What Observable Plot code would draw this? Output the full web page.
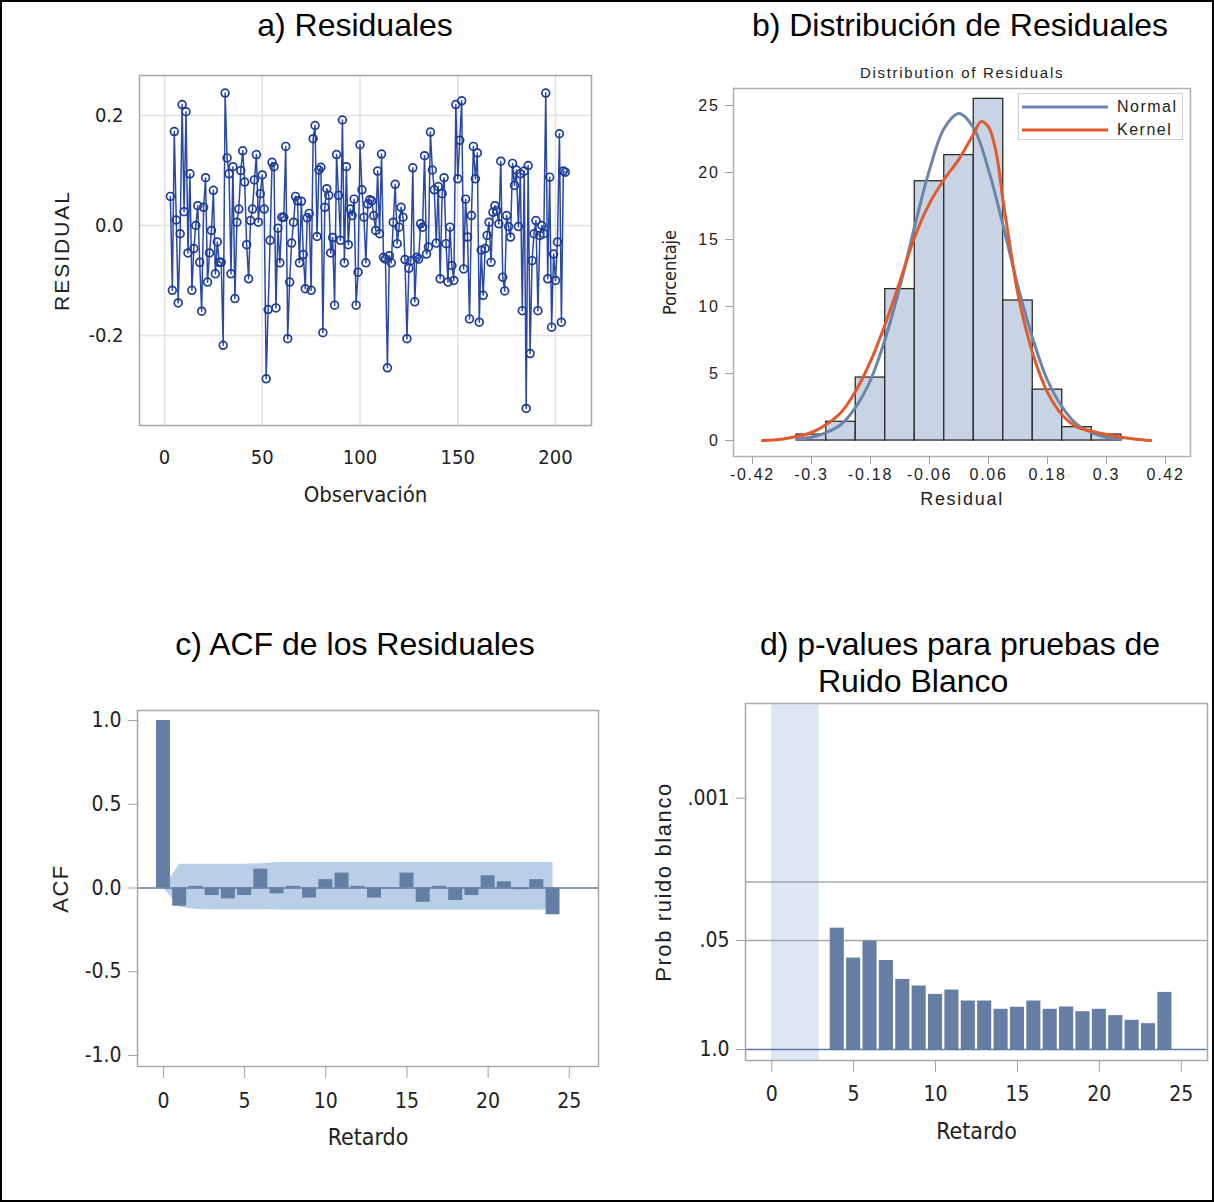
<!DOCTYPE html>
<html><head><meta charset="utf-8">
<script src="https://cdn.jsdelivr.net/npm/d3@7"></script>
<script src="https://cdn.jsdelivr.net/npm/@observablehq/plot@0.6"></script>
<style>
body{margin:0;background:#fff;}
#page{position:relative;width:1214px;height:1202px;overflow:hidden;font-family:"Liberation Sans",Arial,sans-serif;background:#fff;}
#border{position:absolute;left:0;top:0;width:1214px;height:1202px;box-sizing:border-box;border:2px solid #000;pointer-events:none;}
.panel{position:absolute;}
.title{position:absolute;font-size:32px;line-height:32px;color:#000;white-space:nowrap;}
.center{transform:translateX(-50%);}
#legend{position:absolute;left:1018px;top:93px;width:165px;height:47px;box-sizing:border-box;border:1px solid #cfcfcf;background:#fff;font-size:16px;letter-spacing:1.5px;color:#222;}
#legend .row{position:absolute;left:3px;height:20px;display:flex;align-items:center;}
#legend svg{margin-right:9px;}
#pb text{letter-spacing:1.7px;}
#pb text[transform*="rotate"]{letter-spacing:0;}
#pa text[transform*="rotate"]{letter-spacing:2px;}
#pc text[transform*="rotate"]{letter-spacing:1.5px;}
#pd text[transform*="rotate"]{letter-spacing:1.6px;}
</style></head><body>
<div id="page">
  <div class="title center" style="left:355px;top:9px">a) Residuales</div>
  <div class="title center" style="left:960px;top:9px">b) Distribución de Residuales</div>
  <div class="title center" style="left:355px;top:628px">c) ACF de los Residuales</div>
  <div class="title center" style="left:960px;top:628px">d) p-values para pruebas de</div>
  <div class="title" style="left:818px;top:665px">Ruido Blanco</div>
  <div id="pa" class="panel" style="left:40px;top:60px"></div>
  <div id="pb" class="panel" style="left:650px;top:60px"></div>
  <div id="pc" class="panel" style="left:20px;top:690px"></div>
  <div id="pd" class="panel" style="left:630px;top:690px"></div>
  <div class="title center" style="left:962px;top:65px;font-size:15px;line-height:16px;letter-spacing:1.7px;color:#222">Distribution of Residuals</div>
  <div id="legend">
    <div class="row" style="top:3px"><svg width="86" height="4"><line x1="0" x2="86" y1="2" y2="2" stroke="#6b84ab" stroke-width="3"/></svg>Normal</div>
    <div class="row" style="top:26px"><svg width="86" height="4"><line x1="0" x2="86" y1="2" y2="2" stroke="#e05a2b" stroke-width="3"/></svg>Kernel</div>
  </div>
  <div id="border"></div>
</div>
<script>
// ---------- Data ----------
// a) Residual series (observation numbers start at 3)
const obsStart = 3;
const residuals = [
 0.053,-0.118,0.171,0.010,-0.141,-0.015,0.220,0.025,0.207,-0.050,0.094,-0.118,-0.042,0.000,0.036,-0.067,-0.156,0.033,0.087,-0.103,
 -0.050,-0.009,0.064,-0.088,-0.030,-0.067,-0.067,-0.218,0.241,0.123,0.094,-0.088,0.107,-0.133,0.006,0.030,0.100,0.136,0.079,-0.035,
 -0.097,0.009,
 0.030,0.083,0.129,0.006,0.058,0.092,0.030,-0.279,-0.153,-0.027,0.115,0.107,-0.150,-0.005,-0.068,0.015,0.015,0.144,-0.206,-0.103,
 -0.032,0.006,0.053,0.045,-0.068,0.044,-0.053,-0.115,0.014,0.022,-0.118,0.158,0.182,-0.020,0.101,0.106,-0.195,0.033,0.067,0.055,-0.050,
 -0.022,-0.145,0.129,0.055,-0.027,0.192,-0.068,0.107,-0.035,0.030,0.018,0.048,-0.145,-0.085,0.147,0.065,0.015,-0.068,0.039,0.047,
 0.045,0.018,-0.009,0.099,-0.015,0.130,-0.058,-0.061,-0.259,-0.055,-0.068,0.006,0.075,-0.033,-0.003,0.033,0.015,-0.062,-0.206,-0.078,
 -0.064,0.105,-0.139,-0.058,
 -0.061,0.003,-0.003,0.127,-0.052,-0.039,0.170,0.101,0.065,-0.032,0.071,-0.097,0.058,0.087,-0.033,-0.103,-0.003,-0.073,-0.100,0.220,
 0.085,0.155,0.227,-0.079,0.048,-0.021,-0.170,0.018,0.144,0.085,0.132,-0.176,-0.045,-0.127,-0.042,-0.018,0.006,-0.067,0.024,0.036,
 0.027,0.003,0.117,-0.094,-0.119,
 0.018,-0.002,-0.021,0.113,0.073,0.101,-0.002,0.094,-0.155,0.099,-0.333,0.109,-0.233,-0.064,-0.015,0.009,-0.155,-0.018,0.000,-0.015,
 0.241,-0.097,0.088,-0.185,-0.052,-0.100,-0.030,0.167,-0.176,0.099,0.097
];
const obsTicks = [0, 50, 100, 150, 200];
const residTicks = [-0.2, 0, 0.2];

// b) Histogram of residuals (percent), bin centres, density curves
const binCenters = [-0.30,-0.24,-0.18,-0.12,-0.06,0.00,0.06,0.12,0.18,0.24,0.30];
const binPercent = [0.45,1.4,4.7,11.3,19.35,21.3,25.5,10.45,3.8,1.0,0.45];
const binWidth = 0.06;
const normalX = [-0.33,-0.30,-0.27,-0.24,-0.21,-0.18,-0.15,-0.12,-0.09,-0.06,-0.03,0.00,0.03,0.06,0.09,0.12,0.15,0.18,0.21,0.24,0.27,0.30,0.33];
const normalY = [0.1,0.25,0.6,1.2,2.5,4.5,7.6,11.5,16.0,20.2,23.3,24.4,23.3,20.2,16.0,11.5,7.6,4.5,2.5,1.2,0.6,0.25,0.1];
const kernelX = [-0.40,-0.36,-0.33,-0.30,-0.27,-0.24,-0.21,-0.18,-0.15,-0.12,-0.09,-0.06,-0.03,0.00,0.03,0.045,0.06,0.075,0.09,0.105,0.12,0.15,0.18,0.21,0.24,0.27,0.30,0.33,0.36,0.39];
const kernelY = [0.0,0.1,0.3,0.6,1.2,2.1,3.7,5.9,8.7,11.9,15.2,17.7,19.5,21.0,22.9,23.8,23.4,21.6,17.8,14.2,10.9,6.5,3.6,1.9,1.0,0.7,0.45,0.25,0.1,0.0];
const residualTicks = [-0.42,-0.3,-0.18,-0.06,0.06,0.18,0.3,0.42];
const percentTicks = [0,5,10,15,20,25];

// c) ACF of residuals
const acfLags = [0,1,2,3,4,5,6,7,8,9,10,11,12,13,14,15,16,17,18,19,20,21,22,23,24];
const acfValues = [1.0,-0.109,0.01,-0.045,-0.065,-0.045,0.113,-0.035,0.01,-0.06,0.05,0.089,0.01,-0.06,0.003,0.089,-0.085,0.01,-0.075,-0.045,0.073,0.037,-0.01,0.05,-0.16];
const bandUpper = [0,0.142,0.142,0.142,0.142,0.142,0.145,0.152,0.152,0.152,0.152,0.152,0.152,0.152,0.152,0.152,0.152,0.152,0.152,0.152,0.152,0.152,0.152,0.152,0.152];
const bandLower = [0,-0.115,-0.128,-0.13,-0.13,-0.13,-0.13,-0.132,-0.132,-0.132,-0.132,-0.132,-0.132,-0.132,-0.132,-0.132,-0.132,-0.132,-0.132,-0.132,-0.132,-0.132,-0.132,-0.132,-0.132];
const lagTicks = [0,5,10,15,20,25];
const acfTicks = [-1,-0.5,0,0.5,1];

// d) White-noise test p-values
const wnLags = [4,5,6,7,8,9,10,11,12,13,14,15,16,17,18,19,20,21,22,23,24];
const wnPValues = [0.0356,0.081,0.0509,0.0865,0.1455,0.1746,0.2198,0.195,0.2636,0.2636,0.331,0.313,0.2636,0.331,0.3105,0.353,0.331,0.3936,0.4477,0.491,0.208];
const untestedLags = [0, 2.9];
const pTicks = [1, 0.05, 0.001];
const pRefLines = [0.01, 0.05];

// ---------- Styles ----------
const NARROW = "'Liberation Sans Narrow','Arial Narrow','DejaVu Sans Condensed',sans-serif";
const REG = "'Liberation Sans',Arial,sans-serif";
const BAR = "#667ea3";
const negLog = p => -Math.log10(p);
const pLabel = v => { const p = +Math.pow(10, -v).toPrecision(3); return p === 1 ? "1.0" : String(p).replace(/^0/, ""); };

// a) Residuals
const resData = residuals.map((r, i) => ({obs: i + obsStart, r}));
document.getElementById("pa").append(Plot.plot({
  width: 570, height: 470, marginLeft: 99, marginRight: 19, marginTop: 15, marginBottom: 105,
  style: {fontFamily: NARROW, fontSize: "20px", color: "#222", background: "transparent"},
  x: {domain: [-12.8, 218.4]},
  y: {domain: [-0.364, 0.273]},
  marks: [
    Plot.gridX(obsTicks, {stroke: "#e2e2e2", strokeOpacity: 1, strokeWidth: 1.5}),
    Plot.gridY(residTicks, {stroke: "#e2e2e2", strokeOpacity: 1, strokeWidth: 1.5}),
    Plot.frame({stroke: "#a6a6a6", strokeWidth: 1.5}),
    Plot.axisX(obsTicks, {tickSize: 0, tickPadding: 24, label: null, fill: "#222"}),
    Plot.axisY(residTicks, {tickSize: 0, tickPadding: 16, label: null, fill: "#222", tickFormat: d => d.toFixed(1)}),
    Plot.line(resData, {x: "obs", y: "r", stroke: "#2a49a3", strokeWidth: 1.5}),
    Plot.dot(resData, {x: "obs", y: "r", r: 3.9, stroke: "#1d3c98", strokeWidth: 1.7, fill: "white", fillOpacity: 0.01}),
    Plot.text(["Observación"], {frameAnchor: "bottom", dy: 76, fontSize: 22, fill: "#222"}),
    Plot.text(["RESIDUAL"], {frameAnchor: "left", dx: -77, rotate: -90, textAnchor: "middle", fontFamily: REG, fontSize: 21, fill: "#222"})
  ]
}));

// b) Histogram
const bins = binCenters.map((c, i) => ({x1: c - binWidth / 2, x2: c + binWidth / 2, p: binPercent[i]}));
const normal = normalX.map((x, i) => ({x, y: normalY[i]}));
const kernel = kernelX.map((x, i) => ({x, y: kernelY[i]}));
document.getElementById("pb").append(Plot.plot({
  width: 560, height: 460, marginLeft: 83, marginRight: 20, marginTop: 28, marginBottom: 64,
  style: {fontFamily: REG, fontSize: "16px", color: "#222", background: "transparent"},
  x: {domain: [-0.4586, 0.4708]},
  y: {domain: [-1.19, 26.27]},
  marks: [
    Plot.rect(bins, {x1: "x1", x2: "x2", y1: 0, y2: "p", fill: "#c8d4e4", stroke: "#2a2a2a", strokeWidth: 1.3}),
    Plot.line(normal, {x: "x", y: "y", stroke: "#6b84ab", strokeWidth: 3, curve: "catmull-rom"}),
    Plot.line(kernel, {x: "x", y: "y", stroke: "#e05a2b", strokeWidth: 3, curve: "catmull-rom"}),
    Plot.frame({stroke: "#b0b0b0", strokeWidth: 1.5}),
    Plot.axisX(residualTicks, {tickSize: 8, tickPadding: 4, label: null, stroke: "#a0a0a0", fill: "#222", tickFormat: d => String(d)}),
    Plot.axisY(percentTicks, {tickSize: 8, tickPadding: 6, label: null, stroke: "#a0a0a0", fill: "#222"}),
    Plot.text(["Residual"], {frameAnchor: "bottom", dy: 48, fontSize: 18, fill: "#222"}),
    Plot.text(["Porcentaje"], {frameAnchor: "left", dx: -63, rotate: -90, textAnchor: "middle", fontFamily: NARROW, fontSize: 18, fill: "#222"})
  ]
}));

// c) ACF
const acf = acfLags.map((lag, i) => ({lag, v: acfValues[i]}));
const band = acfLags.map((lag, i) => ({lag, hi: bandUpper[i], lo: bandLower[i]}));
document.getElementById("pc").append(Plot.plot({
  width: 590, height: 480, marginLeft: 117, marginRight: 12, marginTop: 20, marginBottom: 104,
  style: {fontFamily: NARROW, fontSize: "21px", color: "#222", background: "transparent"},
  x: {domain: [-1.6, 26.8]},
  y: {domain: [-1.066, 1.06]},
  marks: [
    Plot.areaY(band, {x: "lag", y1: "lo", y2: "hi", fill: "#b9cee7"}),
    Plot.ruleY([0], {stroke: "#5f7aa5", strokeWidth: 1.5}),
    Plot.rect(acf, {x1: d => d.lag - 0.43, x2: d => d.lag + 0.43, y1: 0, y2: "v", fill: BAR}),
    Plot.frame({stroke: "#a8a8a8", strokeWidth: 1.5}),
    Plot.axisX(lagTicks, {tickSize: 12, tickPadding: 15, label: null, stroke: "#a0a0a0", fill: "#222"}),
    Plot.axisY(acfTicks, {tickSize: 9, tickPadding: 7, label: null, stroke: "#a0a0a0", fill: "#222", tickFormat: d => d.toFixed(1)}),
    Plot.text(["Retardo"], {frameAnchor: "bottom", dy: 78, fontSize: 23, fill: "#222"}),
    Plot.text(["ACF"], {frameAnchor: "left", dx: -77, rotate: -90, textAnchor: "middle", fontFamily: REG, fontSize: 22, fill: "#222"})
  ]
}));

// d) White noise p-values (y = -log10 p)
const wn = wnLags.map((lag, i) => ({lag, p: wnPValues[i]}));
document.getElementById("pd").append(Plot.plot({
  width: 584, height: 480, marginLeft: 115, marginRight: 7, marginTop: 13, marginBottom: 110,
  style: {fontFamily: NARROW, fontSize: "21px", color: "#222", background: "transparent"},
  x: {domain: [-1.6, 26.6]},
  y: {domain: [-0.131, 4.13]},
  marks: [
    Plot.rect([untestedLags], {x1: d => d[0], x2: d => d[1], fill: "#dde7f3"}),
    Plot.ruleY(pRefLines, {y: negLog, stroke: "#a3a7ab", strokeWidth: 1.5}),
    Plot.rect(wn, {x1: d => d.lag - 0.43, x2: d => d.lag + 0.43, y1: 0, y2: d => negLog(d.p), fill: BAR}),
    Plot.ruleY([1], {y: negLog, stroke: "#5f7aa5", strokeWidth: 1.5}),
    Plot.frame({stroke: "#a8a8a8", strokeWidth: 1.5}),
    Plot.axisX(lagTicks, {tickSize: 12, tickPadding: 14, label: null, stroke: "#a0a0a0", fill: "#222"}),
    Plot.axisY(pTicks.map(negLog), {tickSize: 9, tickPadding: 7, label: null, stroke: "#a0a0a0", fill: "#222", tickFormat: pLabel}),
    Plot.text(["Retardo"], {frameAnchor: "bottom", dy: 78, fontSize: 23, fill: "#222"}),
    Plot.text(["Prob ruido blanco"], {frameAnchor: "left", dx: -82, rotate: -90, textAnchor: "middle", fontFamily: REG, fontSize: 22, fill: "#222"})
  ]
}));
</script>
</body></html>
